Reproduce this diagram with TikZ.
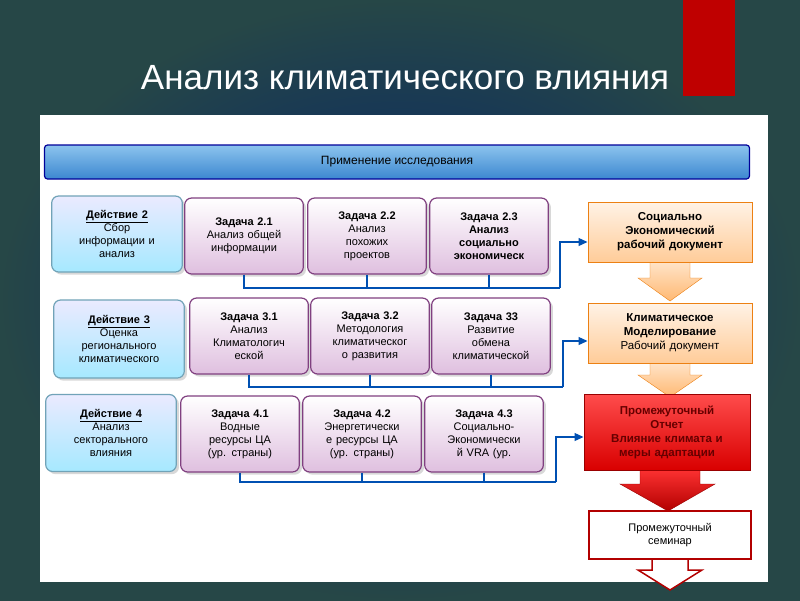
\documentclass[tikz,border=0pt]{standalone}
\usepackage{fontspec}
\setmainfont{Liberation Sans}
\usetikzlibrary{shadows,arrows.meta}
\definecolor{hdtop}{HTML}{8CC4EE}
\definecolor{hdbot}{HTML}{3C87D0}
\begin{document}
\begin{tikzpicture}[x=1pt,y=-1pt,
  act/.style={draw=cyan!40!gray,line width=1.2pt,rounded corners=7pt,top color=blue!8,bottom color=blue!25!cyan!35,align=center,font=\fontsize{11}{13}\selectfont,minimum width=129pt,minimum height=76pt,text width=124pt,drop shadow={opacity=0.3}},
  task/.style={draw=violet!50!gray,line width=1.2pt,rounded corners=7pt,top color=white,bottom color=violet!25,align=center,font=\fontsize{11}{13}\selectfont,minimum width=115pt,minimum height=76pt,text width=112pt,drop shadow={opacity=0.3}},
  doc/.style={draw=orange!70!brown,line width=1pt,top color=orange!10,bottom color=orange!40,align=center,font=\fontsize{11.5}{14}\selectfont\bfseries,minimum width=164pt,minimum height=60pt,text width=156pt},
  conn/.style={draw=blue!55!cyan!70!black,line width=1.3pt},
  arr/.style={conn,-{Triangle[length=9pt,width=8pt]}}]
\useasboundingbox (0,0) rectangle (800,600);
\shade[inner color=teal!45!blue!55!black,outer color=teal!30!black!85] (0,0) rectangle (800,600);
\fill[red!75!black] (683,0) rectangle (735,96);
\node[text=white,font=\fontsize{35}{38}\selectfont] (title) at (405,78) {Анализ климатического влияния};
\fill[white] (40,115) rectangle (768,582);
\node[draw=blue!60!black,line width=1.2pt,rounded corners=3pt,top color=hdtop,bottom color=hdbot,minimum width=705pt,minimum height=34pt,font=\fontsize{12}{14}\selectfont] (head) at (397,162) {Применение исследования};
% row 1
\node[act,minimum height=76pt] (a2) at (117,234) {\textbf{\underline{Действие 2}}\\Сбор\\информации и\\анализ};
\node[task] (t21) at (244,236) {\textbf{Задача 2.1}\\Анализ общей\\информации};
\node[task] (t22) at (367,236) {\textbf{Задача 2.2}\\Анализ\\похожих\\проектов};
\node[task] (t23) at (489,236) {\textbf{Задача 2.3}\\\textbf{Анализ}\\\textbf{социально}\\\textbf{экономическ}};
% row 2
\node[act,minimum height=78pt] (a3) at (119,339) {\textbf{\underline{Действие 3}}\\Оценка\\регионального\\климатического};
\node[task] (t31) at (249,336) {\textbf{Задача 3.1}\\Анализ\\Климатологич\\еской};
\node[task] (t32) at (370,336) {\textbf{Задача 3.2}\\Методология\\климатическог\\о развития};
\node[task] (t33) at (491,336) {\textbf{Задача 33}\\Развитие\\обмена\\климатической};
% row 3
\node[act,minimum height=77pt] (a4) at (111,433) {\textbf{\underline{Действие 4}}\\Анализ\\секторального\\влияния};
\node[task] (t41) at (240,434) {\textbf{Задача 4.1}\\Водные\\ресурсы ЦА\\(ур. страны)};
\node[task] (t42) at (362,434) {\textbf{Задача 4.2}\\Энергетически\\е ресурсы ЦА\\(ур. страны)};
\node[task] (t43) at (484,434) {\textbf{Задача 4.3}\\Социально-\\Экономически\\й VRA (ур.};
% block arrows
\shade[draw=orange!70!brown,top color=orange!20,bottom color=orange!55] (650,260) -- (690,260) -- (690,278) -- (702,278) -- (670,301) -- (638,278) -- (650,278) -- cycle;
\shade[draw=orange!70!brown,top color=orange!20,bottom color=orange!55] (650,361) -- (690,361) -- (690,375) -- (702,375) -- (670,397) -- (638,375) -- (650,375) -- cycle;
\shade[draw=red!60!black,top color=red!80,bottom color=red!70!black] (640,468) -- (700,468) -- (700,484) -- (715,484) -- (668,511) -- (620,484) -- (640,484) -- cycle;
\draw[draw=red!70!black,line width=1.5pt,fill=white] (652,558) -- (688,558) -- (688,570) -- (702,570) -- (670,590) -- (638,570) -- (652,570) -- cycle;
% right column
\node[doc] (d1) at (670,232) {Социально\\Экономический\\рабочий документ};
\node[doc] (d2) at (670,333) {Климатическое\\Моделирование\\\mdseries Рабочий документ};
\node[draw=red!60!black,line width=1pt,top color=red!70,bottom color=red!85!black,text=red!40!black,align=center,font=\fontsize{11.5}{14}\selectfont\bfseries,minimum width=166pt,minimum height=76pt,text width=156pt] (d3) at (667,432) {Промежуточный\\Отчет\\Влияние климата и\\меры адаптации};
\node[draw=red!70!black,line width=2pt,fill=white,align=center,font=\fontsize{11}{13}\selectfont,minimum width=162pt,minimum height=48pt] (d4) at (670,535) {Промежуточный\\семинар};
% connectors
\coordinate (c1) at (560,288); \coordinate (c2) at (563,387); \coordinate (c3) at (556,482);
\draw[conn] (t21.south) -- (t21.south |- c1) -- (c1);
\draw[conn] (t22.south) -- (t22.south |- c1);
\draw[conn] (t23.south) -- (t23.south |- c1);
\draw[arr] (c1) |- (d1.west |- 0,242);
\draw[conn] (t31.south) -- (t31.south |- c2) -- (c2);
\draw[conn] (t32.south) -- (t32.south |- c2);
\draw[conn] (t33.south) -- (t33.south |- c2);
\draw[arr] (c2) |- (d2.west |- 0,341);
\draw[conn] (t41.south) -- (t41.south |- c3) -- (c3);
\draw[conn] (t42.south) -- (t42.south |- c3);
\draw[conn] (t43.south) -- (t43.south |- c3);
\draw[arr] (c3) |- (d3.west |- 0,437);
\end{tikzpicture}
\end{document}
